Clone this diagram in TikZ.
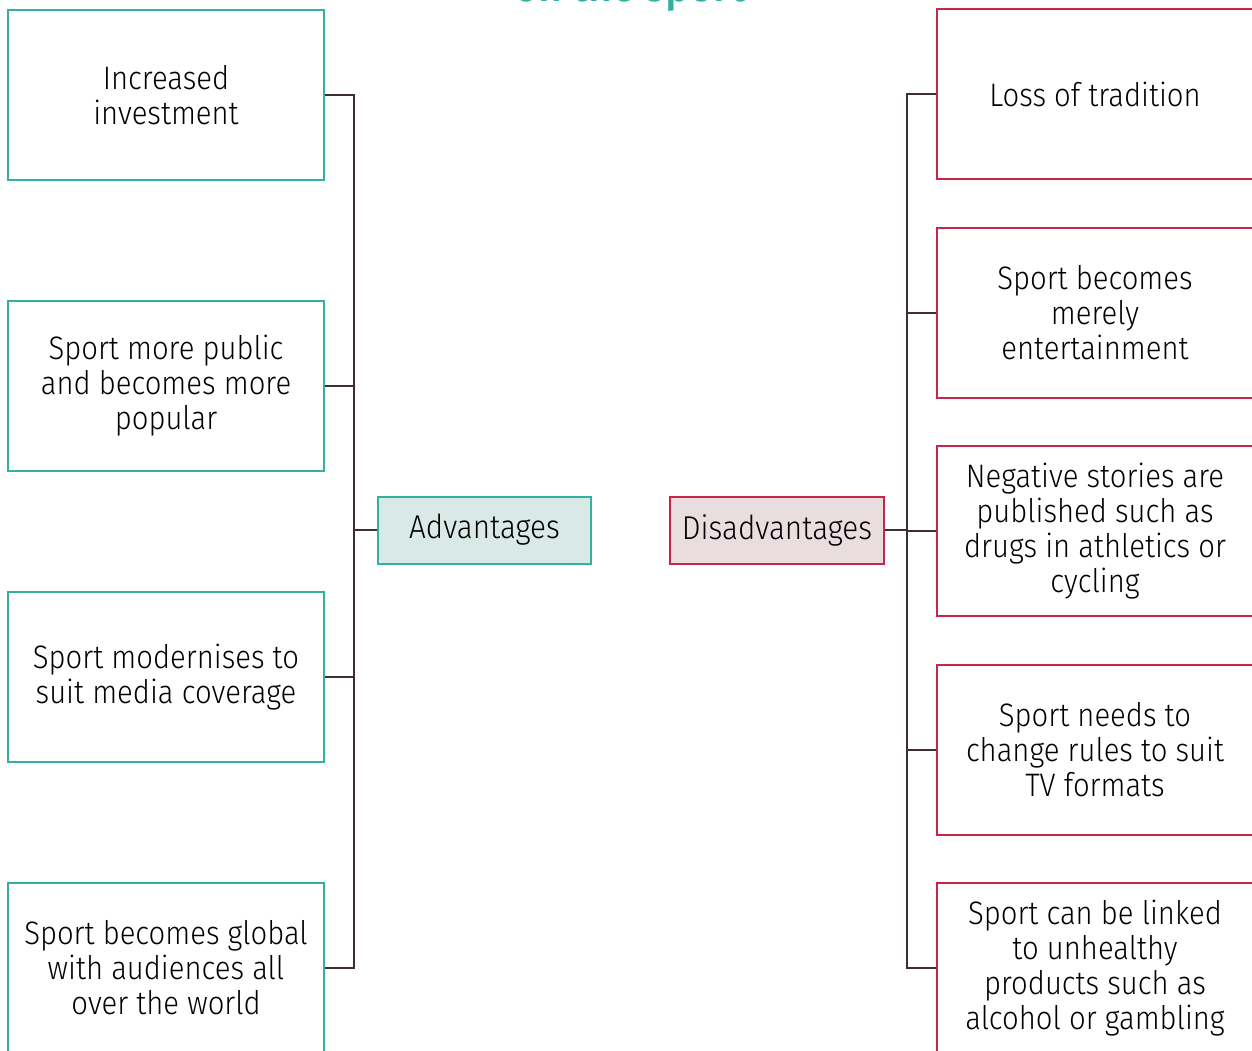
\documentclass[tikz,border=0pt]{standalone}
\usepackage{fontspec}
\setmainfont{Fira Sans}[UprightFont=* Light, BoldFont=* Medium, FakeStretch=0.9]
\definecolor{teal}{RGB}{52,176,160}
\definecolor{crim}{RGB}{200,36,76}
\definecolor{tealfill}{RGB}{217,234,230}
\definecolor{crimfill}{RGB}{234,221,224}
\definecolor{conncol}{RGB}{62,45,52}
\tikzset{
  advbox/.style={draw=teal, line width=2pt, minimum width=316pt, minimum height=170pt, align=center, inner sep=0pt, font=\fontsize{32.5}{35}\selectfont},
  disbox/.style={draw=crim, line width=2pt, minimum width=316pt, minimum height=170pt, align=center, inner sep=0pt, font=\fontsize{32.5}{35}\selectfont},
  headA/.style={draw=teal, fill=tealfill, line width=2pt, minimum width=213pt, minimum height=67pt, inner sep=0pt, font=\fontsize{33}{36}\selectfont},
  headD/.style={draw=crim, fill=crimfill, line width=2pt, minimum width=214pt, minimum height=67pt, inner sep=0pt, font=\fontsize{33}{36}\selectfont},
  conn/.style={draw=conncol, line width=2pt}
}
\begin{document}
\begin{tikzpicture}[x=1pt,y=-1pt]
\useasboundingbox (0,0) rectangle (1252,1051);
\node[text=teal, font=\fontsize{46}{48}\selectfont\bfseries, anchor=base] (title) at (630,2) {on the sport};
% left boxes
\node[advbox] (a1) at (166,95) {Increased\\investment};
\node[advbox] (a2) at (166,386) {Sport more public\\and becomes more\\popular};
\node[advbox] (a3) at (166,677) {Sport modernises to\\suit media coverage};
\node[advbox] (a4) at (166,968) {Sport becomes global\\with audiences all\\over the world};
% right boxes
\node[disbox] (d1) at (1095,94) {Loss of tradition};
\node[disbox] (d2) at (1095,312.5) {Sport becomes\\merely\\entertainment};
\node[disbox] (d3) at (1095,531) {Negative stories are\\published such as\\drugs in athletics or\\cycling};
\node[disbox] (d4) at (1095,750) {Sport needs to\\change rules to suit\\TV formats};
\node[disbox] (d5) at (1095,968) {Sport can be linked\\to unhealthy\\products such as\\alcohol or gambling};
% headers
\node[headA] (adv) at (484.5,530) {Advantages};
\node[headD] (dis) at (777,530) {Disadvantages};
% spines
\coordinate (lsp) at (354,0);
\coordinate (rsp) at (907,0);
\draw[conn] (a1.east) -- (a1.east -| lsp) -- (a4.east -| lsp) -- (a4.east);
\draw[conn] (a2.east) -- (a2.east -| lsp);
\draw[conn] (a3.east) -- (a3.east -| lsp);
\draw[conn] (adv.west) -- (adv.west -| lsp);
\draw[conn] (d1.west) -- (d1.west -| rsp) -- (d5.west -| rsp) -- (d5.west);
\draw[conn] (d2.west) -- (d2.west -| rsp);
\draw[conn] (d3.west) -- (d3.west -| rsp);
\draw[conn] (d4.west) -- (d4.west -| rsp);
\draw[conn] (dis.east) -- (dis.east -| rsp);
\end{tikzpicture}
\end{document}
